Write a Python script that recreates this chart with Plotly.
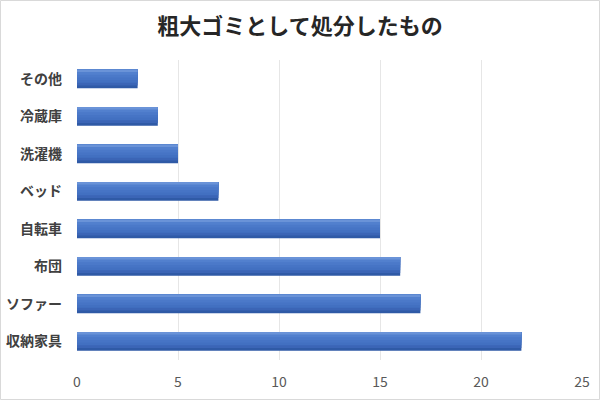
import plotly.graph_objects as go

categories = ["収納家具", "ソファー", "布団", "自転車", "ベッド", "洗濯機", "冷蔵庫", "その他"]
values = [22, 17, 16, 15, 7, 5, 4, 3]
x_ticks = [0, 5, 10, 15, 20, 25]
title_text = "粗大ゴミとして処分したもの"

W, H = 600, 400
L, R, T, B = 77, 18, 60, 40

# nested layers (bottom edge -> top) to mimic the vertically shaded bars
band_colors = ["#2F5AA6", "#3B65B6", "#4270C1", "#4674C5", "#4B79C9", "#5280CE", "#6A93D8"]
bar_w = 0.5
n = len(band_colors)
step = bar_w / n

fig = go.Figure()
for i, c in enumerate(band_colors):
    fig.add_trace(go.Bar(
        y=categories, x=values, orientation="h",
        marker=dict(color=c, line=dict(width=0)),
        width=bar_w - i * step, offset=-bar_w / 2 + i * step,
        hoverinfo="x+y",
    ))

pw = W - L - R
ph = H - T - B
fig.add_shape(type="rect", xref="paper", yref="paper",
              x0=(0.5 - L) / pw, x1=(W - 0.5 - L) / pw,
              y0=(-(B - 0.5)) / ph, y1=(H - B - 0.5) / ph,
              line=dict(color="#D9D9D9", width=1), layer="below")

fig.update_layout(
    width=W, height=H,
    margin=dict(l=L, r=R, t=T, b=B, autoexpand=False),
    paper_bgcolor="white", plot_bgcolor="white",
    showlegend=False,
    barmode="overlay",
    title=dict(text=f"<b>{title_text}</b>", xref="container", x=0.5, xanchor="center",
               y=0.935, yanchor="middle",
               font=dict(family="Noto Sans CJK JP", size=22, color="#262626")),
    font=dict(family="Noto Sans CJK JP"),
)
fig.update_xaxes(range=[0, 25], tickvals=x_ticks, showgrid=True, gridcolor="#E6E6E6", gridwidth=1,
                 zeroline=False, showline=False, automargin=False,
                 tickfont=dict(family="Noto Sans CJK JP", size=14, color="#595959"),
                 ticks="", ticklabelstandoff=12)
fig.update_yaxes(categoryorder="array", categoryarray=categories, showgrid=False, zeroline=False,
                 showline=False, ticks="", automargin=False,
                 tickfont=dict(family="Noto Sans CJK JP", size=14, color="#404040", weight="bold"),
                 ticklabelstandoff=14)

fig.write_html("out.html")
